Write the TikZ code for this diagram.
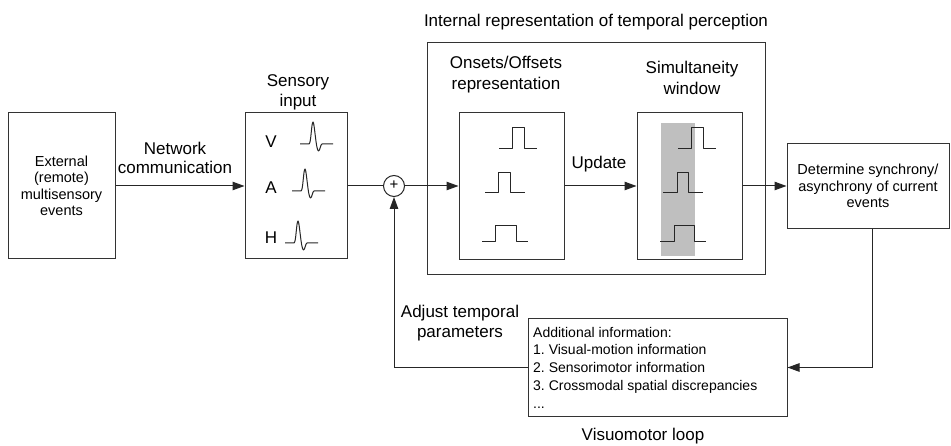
\documentclass[tikz,border=0pt]{standalone}
\usepackage{fontspec}
\setmainfont{Liberation Sans}
\usetikzlibrary{arrows.meta}
\frenchspacing
\newcommand\myLbl{\fontsize{17}{20}\selectfont}
\newcommand\mySml{\fontsize{14.5}{16.5}\selectfont}
\newcommand\myInfo{\fontsize{14}{17.75}\selectfont}
\tikzset{
  box/.style={draw=black!80, line width=1pt, inner sep=0pt},
  line/.style={draw=black!85, line width=1pt},
  conn/.style={line, -{Triangle[length=12pt,width=8.5pt]}},
  lbl/.style={font=\myLbl, align=center, inner sep=0pt},
  wave/.style={draw=black!85, line width=1pt, line join=round},
  spike/.pic={
    \draw[wave] (-13,0) -- (-4,0) .. controls (-2,0) and (-1.5,-22) .. (0,-22)
      .. controls (1.5,-22) and (3,7) .. (5.5,7) .. controls (7,7) and (7.5,0) .. (9,0) -- (20,0);
  }
}
\begin{document}
\begin{tikzpicture}[x=1pt,y=-1pt]
\useasboundingbox (0,0) rectangle (951,446);

% boxes
\node[box, minimum width=107pt, minimum height=146pt, align=center, font=\mySml] (ext) at (61.5,186) {External\\(remote)\\multisensory\\events};
\node[box, minimum width=102pt, minimum height=146pt] (sens) at (296,186) {};
\node[box, minimum width=338pt, minimum height=232pt] (intl) at (596,159) {};
\node[box, minimum width=105pt, minimum height=147pt] (ons) at (511.5,186) {};
\node[box, minimum width=105pt, minimum height=147pt] (sim) at (689.5,186) {};
\node[box, minimum width=162pt, minimum height=85pt, align=center, font=\mySml] (det) at (868,186) {Determine synchrony/\\asynchrony of current\\events};
\node[box, minimum width=259pt, minimum height=97pt] (info) at (657.5,367.5) {};
\node[draw=black!85, line width=1pt, circle, minimum size=21pt, inner sep=0pt] (sum) at (394,186) {};
\node[inner sep=0pt, font=\fontsize{15}{15}\selectfont] (plus) at (394,185.5) {+};

% gray window
\fill[black!25] (661,123) rectangle (695,256);

% labels
\node[lbl] (title) at (596,22) {Internal representation of temporal perception};
\node[lbl] (senslbl) at (298,92) {Sensory\\input};
\node[lbl, font=\fontsize{17}{19}\selectfont] (netlbl) at (175,157.5) {Network\\communication};
\node[lbl, font=\fontsize{17}{21}\selectfont] (onslbl) at (506,74.5) {Onsets/Offsets\\representation};
\node[lbl, font=\fontsize{17}{21}\selectfont] (simlbl) at (692,77.5) {Simultaneity\\window};
\node[lbl] (upd) at (599,164) {Update};
\node[lbl] (adj) at (460,323) {Adjust temporal\\parameters};
\node[lbl] (vis) at (643,436) {Visuomotor loop};
\node[anchor=west, align=left, inner sep=0pt, font=\myInfo] (infotext) at (533,367.5)
  {Additional information:\\1. Visual-motion information\\2. Sensorimotor information\\3. Crossmodal spatial discrepancies\\...};

% sensory channels
\node[lbl] (vlet) at (271,142) {V};
\node[lbl] (alet) at (271,188) {A};
\node[lbl] (hlet) at (271,238) {H};
\pic at (313,144) {spike};
\pic at (305,191) {spike};
\pic at (298,243) {spike};

% pulses, onsets/offsets
\draw[wave] (499,149) -- (512,149) -- (512,128) -- (524,128) -- (524,149) -- (537,149);
\draw[wave] (485,193) -- (498,193) -- (498,173) -- (510,173) -- (510,193) -- (525,193);
\draw[wave] (482,242) -- (495,242) -- (495,226) -- (516,226) -- (516,242) -- (528,242);
% pulses, simultaneity
\draw[wave] (678,149) -- (691,149) -- (691,128) -- (703,128) -- (703,149) -- (716,149);
\draw[wave] (663,193) -- (677,193) -- (677,173) -- (688,173) -- (688,193) -- (703,193);
\draw[wave] (660,242) -- (674,242) -- (674,226) -- (694,226) -- (694,242) -- (706,242);

% connectors
\draw[conn] (ext.east) -- (sens.west);
\draw[line] (sens.east) -- (sum.west);
\draw[conn] (sum.east) -- (ons.west);
\draw[conn] (ons.east) -- (sim.west);
\draw[conn] (sim.east) -- (det.west);
\draw[conn] ([xshift=4pt]det.south) |- (info.east);
\draw[conn] (info.west) -| (sum.south);
\end{tikzpicture}
\end{document}
